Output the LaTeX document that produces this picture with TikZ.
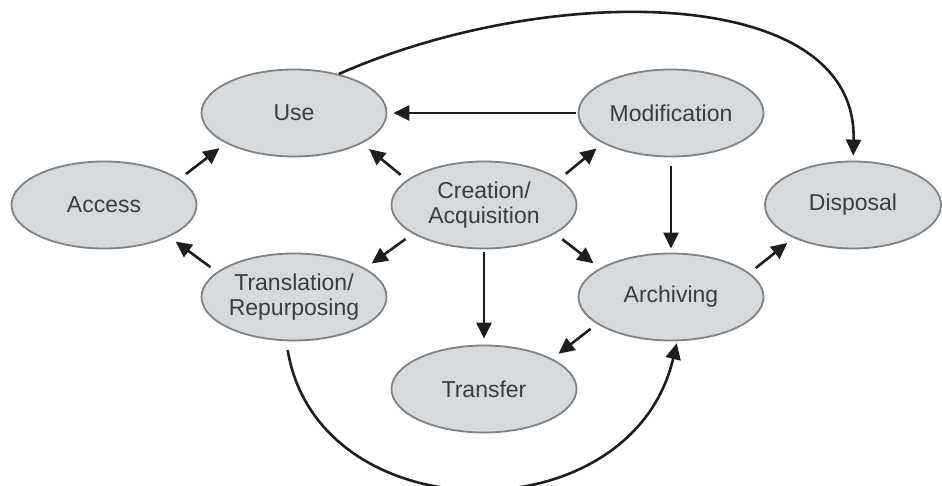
\documentclass[tikz,border=0pt]{standalone}
\usepackage{fontspec}
\setmainfont{Liberation Sans}
\usetikzlibrary{shapes.geometric,arrows.meta}
\definecolor{stagefill}{HTML}{D6DADC}
\definecolor{stageline}{HTML}{7E8284}
\definecolor{stagetext}{HTML}{3C3C3C}
\definecolor{flowline}{HTML}{1E1E1E}
\tikzset{
  stage/.style={ellipse, draw=stageline, line width=1.8pt, fill=stagefill,
    minimum width=185pt, minimum height=87pt, inner sep=0pt, align=center,
    text=stagetext, font=\fontsize{23}{25}\selectfont},
  flow/.style={draw=flowline, line width=2.6pt,
    -{Triangle[length=16pt,width=15pt]}},
}
\begin{document}
\begin{tikzpicture}[x=1pt,y=1pt]
\useasboundingbox (0,0) rectangle (942,486);
\fill[white] (0,0) rectangle (942,486);

% lifecycle stages
\node[stage] (use) at (294,373) {Use};
\node[stage] (mod) at (671,373) {Modification};
\node[stage] (acc) at (104,281) {Access};
\node[stage] (cre) at (484,281) {Creation/\\Acquisition};
\node[stage, minimum width=176pt] (dis) at (853,281) {Disposal};
\node[stage] (tra) at (294,189) {Translation/\\Repurposing};
\node[stage] (arc) at (671,189) {Archiving};
\node[stage] (trf) at (484,97) {Transfer};

% short straight flows
\draw[flow, shorten <=8pt, shorten >=8pt] (acc.19) -- (use.204);
\draw[flow, shorten <=8pt, shorten >=9pt] (cre.162) -- (use.336);
\draw[flow, shorten <=2pt, shorten >=6pt] (mod.west) -- (use.east);
\draw[flow, shorten <=8pt, shorten >=8pt] (cre.19) -- (mod.204);
\draw[flow, shorten <=9pt, shorten >=4pt] (mod.south) -- (arc.north);
\draw[flow, shorten <=9pt, shorten >=8pt] (cre.338) -- (arc.158);
\draw[flow, shorten <=3pt, shorten >=6pt] (cre.south) -- (trf.north);
\draw[flow, shorten <=9pt, shorten >=8pt] (cre.202) -- (tra.22);
\draw[flow, shorten <=8pt, shorten >=8pt] (tra.162) -- (acc.334);
\draw[flow, shorten <=8pt, shorten >=8pt] (arc.200) -- (trf.24);
\draw[flow, shorten <=8pt, shorten >=8pt] (arc.17) -- (dis.209);

% long curved flows
\draw[flow, shorten >=5pt] (use.41.5) .. controls +(208,92) and +(5,178) .. (dis.north);
\draw[flow, shorten <=9pt, shorten >=2pt] (tra.260) .. controls +(32,-193) and +(-46,-196) .. (arc.278);
\end{tikzpicture}
\end{document}
